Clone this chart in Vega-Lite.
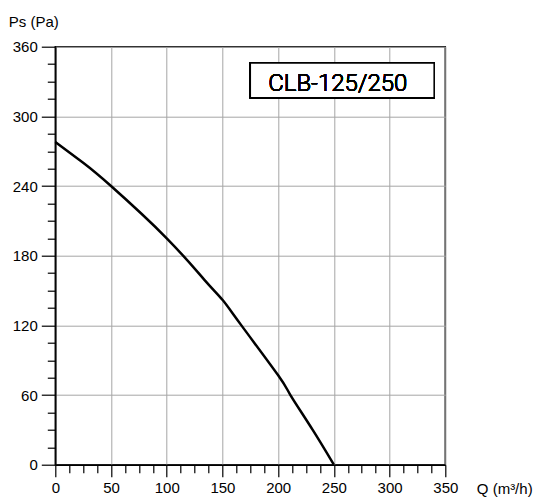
{
  "$schema": "https://vega.github.io/schema/vega-lite/v6.json",
  "width": 390,
  "height": 418,
  "autosize": {"type": "none"},
  "padding": {"left": 55.3, "top": 46.7, "right": 90.7, "bottom": 32.3},
  "background": "white",
  "config": {
    "view": {"stroke": "black", "strokeWidth": 1.5},
    "font": "Liberation Sans"
  },
  "resolve": {"axis": {"x": "independent", "y": "independent"}},
  "data": {
    "values": [
      {"Q": 0, "Ps": 278},
      {"Q": 25, "Ps": 260},
      {"Q": 50, "Ps": 240},
      {"Q": 100, "Ps": 195},
      {"Q": 134, "Ps": 159},
      {"Q": 150, "Ps": 142},
      {"Q": 167, "Ps": 120},
      {"Q": 200, "Ps": 77},
      {"Q": 211, "Ps": 60},
      {"Q": 231, "Ps": 30},
      {"Q": 250, "Ps": 0}
    ]
  },
  "layer": [
    {
      "mark": {"type": "line", "color": "black", "strokeWidth": 2.5, "interpolate": "natural"},
      "encoding": {
        "x": {
          "field": "Q",
          "type": "quantitative",
          "scale": {"domain": [0, 350], "nice": false, "zero": false},
          "axis": {
            "orient": "bottom",
            "values": [0, 50, 100, 150, 200, 250, 300, 350],
            "ticks": true,
            "tickSize": 12,
            "grid": true,
            "gridColor": "#a6a6a6",
            "gridWidth": 1,
            "domainColor": "black",
            "domainWidth": 1.5,
            "tickColor": "black",
            "tickWidth": 1.2,
            "labelFontSize": 15,
            "labelColor": "black",
            "labelPadding": 4,
            "labelFlush": false,
            "labelOverlap": false,
            "title": "Q (m³/h)",
            "titleFontSize": 15,
            "titleFontWeight": "normal",
            "titleColor": "black",
            "titleAngle": 0,
            "titleAlign": "left",
            "titleBaseline": "alphabetic",
            "titleX": 421,
            "titleY": 29
          }
        },
        "y": {
          "field": "Ps",
          "type": "quantitative",
          "scale": {"domain": [0, 360], "nice": false},
          "axis": {
            "orient": "left",
            "values": [0, 60, 120, 180, 240, 300, 360],
            "ticks": true,
            "tickSize": 14,
            "grid": true,
            "gridColor": "#a6a6a6",
            "gridWidth": 1,
            "domainColor": "black",
            "domainWidth": 1.5,
            "tickColor": "black",
            "tickWidth": 1.2,
            "labelFontSize": 15,
            "labelColor": "black",
            "labelPadding": 4,
            "labelFlush": false,
            "labelOverlap": false,
            "title": "Ps (Pa)",
            "titleFontSize": 15,
            "titleFontWeight": "normal",
            "titleColor": "black",
            "titleAngle": 0,
            "titleAlign": "left",
            "titleBaseline": "alphabetic",
            "titleX": -47,
            "titleY": -20
          }
        }
      }
    },
    {
      "mark": {"type": "rect", "fill": "white", "stroke": "black", "strokeWidth": 1.5},
      "encoding": {
        "x": {
          "datum": 175,
          "axis": {
            "orient": "bottom",
            "values": [12.5, 25, 37.5, 62.5, 75, 87.5, 112.5, 125, 137.5, 162.5, 175, 187.5, 212.5, 225, 237.5, 262.5, 275, 287.5, 312.5, 325, 337.5],
            "tickSize": 8,
            "tickColor": "black",
            "tickWidth": 1.2,
            "labels": false,
            "grid": false,
            "domain": false,
            "title": null
          }
        },
        "x2": {"datum": 340},
        "y": {
          "datum": 346,
          "axis": {
            "orient": "left",
            "values": [15, 30, 45, 75, 90, 105, 135, 150, 165, 195, 210, 225, 255, 270, 285, 315, 330, 345],
            "tickSize": 8,
            "tickColor": "black",
            "tickWidth": 1.2,
            "labels": false,
            "grid": false,
            "domain": false,
            "title": null
          }
        },
        "y2": {"datum": 316}
      }
    },
    {
      "mark": {"type": "text", "font": "Roboto", "fontSize": 24, "fontWeight": 300, "baseline": "alphabetic", "align": "center", "color": "black"},
      "encoding": {
        "x": {"datum": 253.5, "axis": null},
        "y": {"datum": 321.7, "axis": null},
        "text": {"value": "CLB-125/250"}
      }
    }
  ]
}
